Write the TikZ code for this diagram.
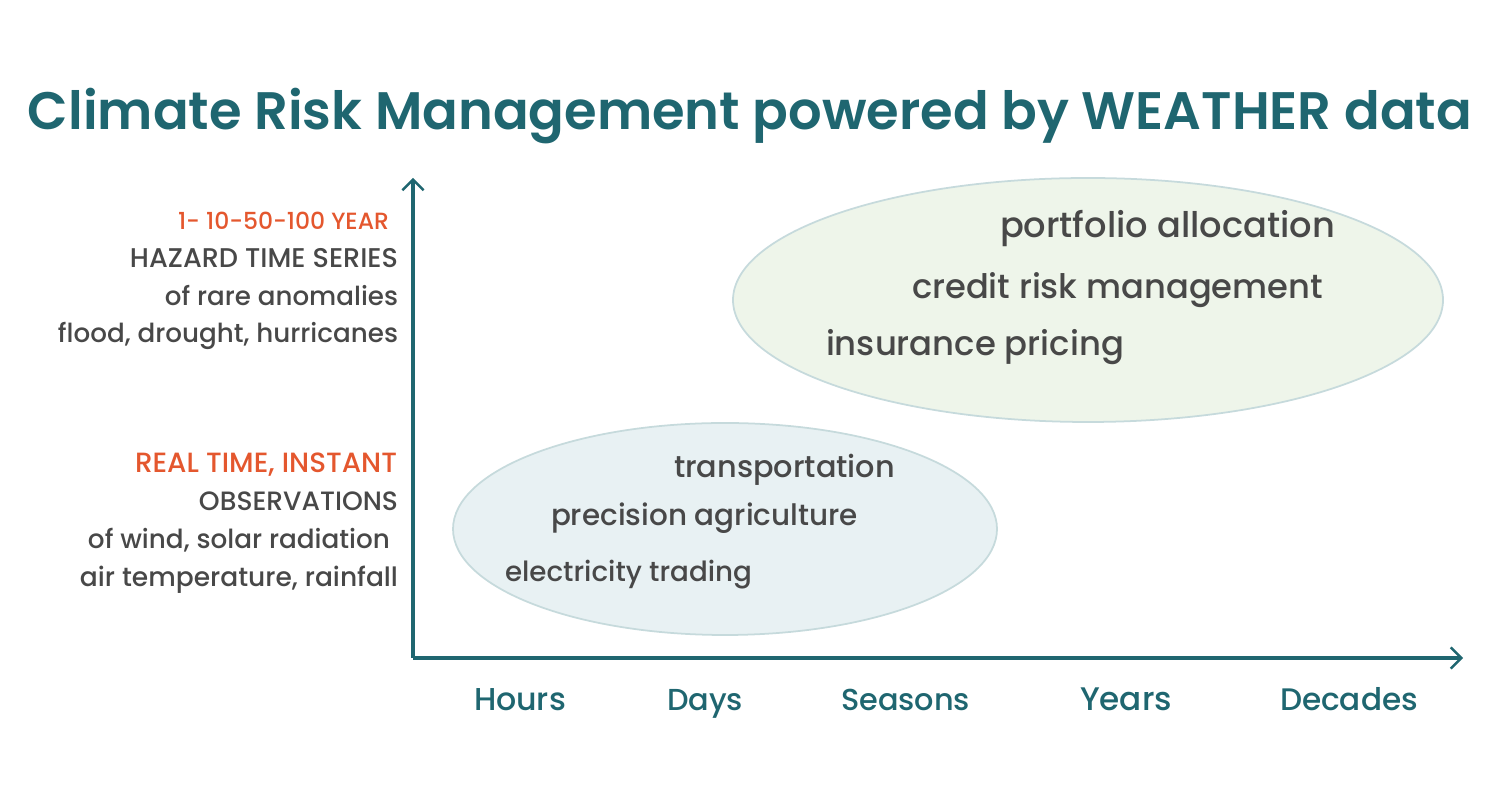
\documentclass[tikz,border=0pt]{standalone}
\usepackage{fontspec}
\setmainfont{Poppins}
\newfontfamily\medfont{Poppins Medium}
\newfontfamily\titlefont{Poppins SemiBold}
\usetikzlibrary{arrows.meta}
\definecolor{teal1}{HTML}{1F6670}
\definecolor{orng}{HTML}{E4572E}
\definecolor{gry}{HTML}{484848}
\definecolor{bluefill}{HTML}{E8F1F3}
\definecolor{greenfill}{HTML}{EEF5EA}
\definecolor{ellline}{HTML}{C6DADC}
\newcommand{\fitw}[2]{\resizebox{#1}{!}{\medfont #2}}
\tikzset{
  txt/.style={inner sep=0pt, outer sep=0pt},
  lbl/.style={txt, anchor=base east, text=gry},
  olbl/.style={txt, anchor=base east, text=orng},
  axlbl/.style={txt, anchor=base west, text=teal1},
  app/.style={txt, anchor=base west, text=gry},
  axis/.style={teal1, line width=1.8pt, -{Straight Barb[length=6pt,width=12pt,line width=1.4pt]}},
  zone/.style={draw=ellline, line width=1pt}
}
\begin{document}
\begin{tikzpicture}
\useasboundingbox (0,0) rectangle (30,16);
% ellipses
\draw[zone, fill=bluefill] (14.5,5.42) ellipse [x radius=5.44, y radius=2.12];
\draw[zone, fill=greenfill] (21.76,10.0) ellipse [x radius=7.1, y radius=2.44];
% title
\node[txt, anchor=base west, text=teal1] (title) at (0.56,13.4) {\resizebox{28.88cm}{!}{\titlefont Climate Risk Management powered by WEATHER data}};
% axes
\coordinate (O) at (8.26,2.84);
\coordinate (Ytop) at (8.26,12.44);
\coordinate (Xend) at (29.26,2.84);
\draw[axis] (O) -- (Ytop);
\draw[axis] (O) -- (Xend);
% left labels
\node[olbl] (l1) at (7.78,11.4) {\fitw{4.22cm}{1- 10-50-100 YEAR}};
\node[lbl] (l2) at (7.96,10.64) {\fitw{5.36cm}{HAZARD TIME SERIES}};
\node[lbl] (l3) at (7.96,9.88) {\fitw{4.66cm}{of rare anomalies}};
\node[lbl] (l4) at (7.96,9.14) {\fitw{6.8cm}{flood, drought, hurricanes}};
\node[olbl] (r1) at (7.94,6.54) {\fitw{5.24cm}{REAL TIME, INSTANT}};
\node[lbl] (r2) at (7.96,5.78) {\fitw{3.98cm}{OBSERVATIONS}};
\node[lbl] (r3) at (7.8,5.02) {\fitw{6.04cm}{of wind, solar radiation}};
\node[lbl] (r4) at (7.96,4.26) {\fitw{6.36cm}{air temperature, rainfall}};
% axis labels
\node[axlbl] (h) at (9.48,1.78) {\fitw{1.84cm}{Hours}};
\node[axlbl] (d) at (13.34,1.78) {\fitw{1.52cm}{Days}};
\node[axlbl] (s) at (16.82,1.78) {\fitw{2.58cm}{Seasons}};
\node[axlbl] (y) at (21.6,1.78) {\fitw{1.84cm}{Years}};
\node[axlbl] (dc) at (25.6,1.78) {\fitw{2.76cm}{Decades}};
% applications
\node[app] (a1) at (20.0,11.24) {\fitw{6.7cm}{portfolio allocation}};
\node[app] (a2) at (18.24,10.02) {\fitw{8.22cm}{credit risk management}};
\node[app] (a3) at (16.52,8.88) {\fitw{5.96cm}{insurance pricing}};
\node[app] (b1) at (13.48,6.44) {\fitw{4.42cm}{transportation}};
\node[app] (b2) at (11.02,5.48) {\fitw{6.14cm}{precision agriculture}};
\node[app] (b3) at (10.1,4.36) {\fitw{4.94cm}{electricity trading}};
\end{tikzpicture}
\end{document}
